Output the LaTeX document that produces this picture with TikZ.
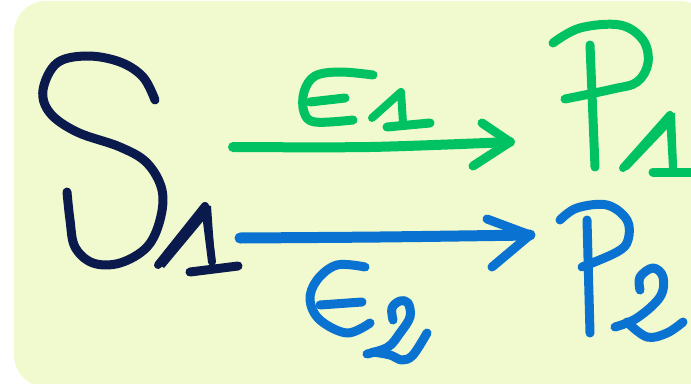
\documentclass[tikz,border=0pt]{standalone}
\begin{document}
\begin{tikzpicture}[x=1pt,y=-1pt,
  ink/.style={line width=#1, line cap=round, line join=round},
  ink/.default=9pt]
\definecolor{bg}{HTML}{F1F9CE}
\definecolor{navy}{HTML}{0B1A4C}
\definecolor{grn}{HTML}{00C262}
\definecolor{blu}{HTML}{0A72D0}
\useasboundingbox (0,0) rectangle (691,383);
\fill[bg, rounded corners=32pt] (14,1) rectangle (712,387);

% S1
\draw[navy, ink=9pt] plot[smooth, tension=0.6] coordinates {
 (155,100) (143,77) (120,62) (87,56) (57,63) (43,90) (50,113) (77,132)
 (120,147) (147,163) (162,190) (160,220) (147,247) (120,263) (93,263)
 (75,247) (70,220) (67,192)};
\fill[navy] (156,262) -- (203,204) -- (211,206) -- (215,262) -- (209,263) -- (204,220) -- (164,268) -- cycle;
\draw[navy, ink=8pt] (158,265) -- (205,206) -- (212,262);
\draw[navy, ink=9pt] (190,272) -- (238,266);

% green arrow E1
\coordinate (ga) at (233,147);
\coordinate (gb) at (510,142);
\draw[grn, ink=10pt] plot[smooth, tension=0.5] coordinates {(ga) (370,147) (gb)};
\draw[grn, ink=9pt] (482,123) -- (gb) -- (473,166);
% E
\draw[grn, ink=9pt] plot[smooth, tension=0.6] coordinates {
 (373,75) (340,72) (315,76) (304,92) (304,112) (315,122) (353,120)};
\draw[grn, ink=9pt] (310,102) -- (345,98);
% 1
\draw[grn, ink=8pt] (372,118) -- (401,92) -- (403,123);
\draw[grn, ink=9pt] (387,127) -- (430,123);

% blue arrow E2
\coordinate (ba) at (240,238);
\coordinate (bb) at (530,235);
\draw[blu, ink=11pt] plot[smooth, tension=0.5] coordinates {(ba) (380,237) (bb)};
\draw[blu, ink=9pt] (487,219) -- (bb) -- (492,267);
% E
\draw[blu, ink=9pt] plot[smooth, tension=0.6] coordinates {
 (365,267) (337,265) (317,280) (310,300) (320,320) (347,333) (370,323)};
\draw[blu, ink=9pt] (320,305) -- (362,302);
% 2
\draw[blu, ink=9pt] plot[smooth, tension=0.6] coordinates {
 (393,320) (392,308) (400,301) (408,303) (410,317) (400,333) (388,347) (367,354)};
\draw[blu, ink=9pt] plot[smooth, tension=0.6] coordinates {
 (373,352) (390,355) (402,360) (413,355) (427,333)};

% P1
\draw[grn, ink=9pt] (590,45) -- (595,167);
\draw[grn, ink=9pt] plot[smooth, tension=0.6] coordinates {
 (553,43) (580,28) (620,25) (643,40) (648,63) (637,82) (613,89) (565,99)};
\fill[grn] (620,166) -- (668,113) -- (675,113) -- (677,168) -- (670,168) -- (668,128) -- (628,170) -- cycle;
\draw[grn, ink=8pt] (623,168) -- (670,115) -- (673,168);
\draw[grn, ink=9pt] (653,172) -- (695,172);

% P2
\draw[blu, ink=9pt] (587,220) -- (590,333);
\draw[blu, ink=9pt] plot[smooth, tension=0.6] coordinates {
 (560,220) (577,208) (607,205) (627,220) (628,240) (617,252) (582,267)};
\draw[blu, ink=9pt] plot[smooth, tension=0.6] coordinates {
 (640,290) (640,277) (653,268) (663,277) (660,297) (637,318) (615,327)};
\draw[blu, ink=9pt] plot[smooth, tension=0.6] coordinates {
 (627,322) (647,337) (667,333) (683,322)};
\end{tikzpicture}
\end{document}
